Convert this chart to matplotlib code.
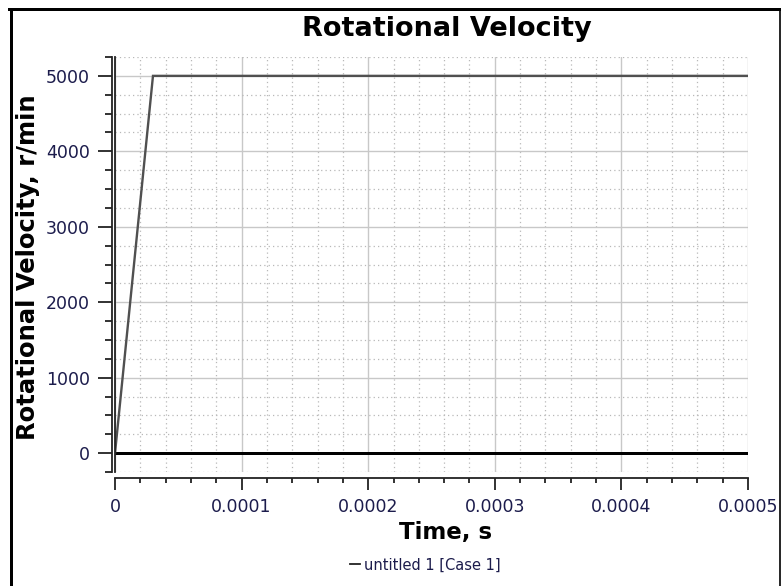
import matplotlib.pyplot as plt
from matplotlib.lines import Line2D
from matplotlib.ticker import MultipleLocator

# velocity profile: linear ramp up, then constant speed
time_s = [0.0, 0.00003, 0.0005]
velocity_rpm = [0.0, 5000.0, 5000.0]

x_ticks = [0, 0.0001, 0.0002, 0.0003, 0.0004, 0.0005]
x_tick_labels = ["0", "0.0001", "0.0002", "0.0003", "0.0004", "0.0005"]
y_ticks = [0, 1000, 2000, 3000, 4000, 5000]

title = "Rotational Velocity"
x_label = "Time, s"
y_label = "Rotational Velocity, r/min"
legend_text = "untitled 1 [Case 1]"

W, H = 781, 586
px = 72 / 100  # points per pixel at dpi 100

fig = plt.figure(figsize=(W / 100, H / 100), dpi=100)
ax = fig.add_axes([115 / W, 1 - 472 / H, 633 / W, 415 / H])

label_color = "#1c1c4c"

# grid
ax.set_axisbelow(True)
ax.xaxis.set_minor_locator(MultipleLocator(0.00002))
ax.yaxis.set_minor_locator(MultipleLocator(250))
ax.grid(which="major", color="#c8c8c8", lw=1.0)
ax.grid(which="minor", color="#b8b8b8", lw=0.9, linestyle=(0, (1, 2.5)))

# zero line and data
ax.axhline(0, color="black", lw=3 * px, zorder=3)
ax.plot(time_s, velocity_rpm, color="#505050", lw=1.7, zorder=4,
        solid_joinstyle="miter")

ax.set_xlim(0, 0.0005)
ax.set_ylim(-250, 5250)
ax.set_xticks(x_ticks)
ax.set_xticklabels(x_tick_labels)
ax.set_yticks(y_ticks)

# axes: detached bottom axis, double left axis line
for s in ["top", "right"]:
    ax.spines[s].set_visible(False)
ax.spines["bottom"].set_position(("outward", 6 * px))
ax.spines["left"].set_position(("outward", 3 * px))
ax.spines["bottom"].set_color("#222222")
ax.spines["left"].set_color("#222222")
ax.spines["bottom"].set_linewidth(1.3)
ax.spines["left"].set_linewidth(1.3)
ax.plot([0, 0], [0, 1], transform=ax.transAxes, color="#222222", lw=1.3,
        clip_on=False, zorder=5)

ax.tick_params(axis="x", which="major", length=12 * px, width=1.3,
               color="#222222", pad=6, labelsize=12.5, labelcolor=label_color)
ax.tick_params(axis="x", which="minor", length=5 * px, width=1.3,
               color="#222222")
ax.tick_params(axis="y", which="major", length=14 * px, width=1.3,
               color="#222222", pad=6, labelsize=12.5, labelcolor=label_color)
ax.tick_params(axis="y", which="minor", length=7 * px, width=1.3,
               color="#222222")

# titles
fig.text(447 / W, 1 - 29 / H, title, ha="center", va="center",
         fontsize=19.5, fontweight="bold")
fig.text(446 / W, 1 - 532 / H, x_label, ha="center", va="center",
         fontsize=16.5, fontweight="bold")
fig.text(28 / W, 1 - 267 / H, y_label, ha="center", va="center",
         rotation=90, fontsize=17.5, fontweight="bold")

# legend entry
fig.add_artist(Line2D([350 / W, 360 / W], [1 - 564 / H, 1 - 564 / H],
                      color="#222222", lw=1.3))
fig.text(364 / W, 1 - 565 / H, legend_text, ha="left", va="center",
         fontsize=10.5, color=label_color)

# frame around the figure
fig.add_artist(Line2D([10.5 / W, 10.5 / W], [0, 1 - 8.5 / H],
                      color="black", lw=3 * px))
fig.add_artist(Line2D([9 / W, 781 / W], [1 - 8.5 / H, 1 - 8.5 / H],
                      color="black", lw=3 * px))
fig.add_artist(Line2D([779.5 / W, 779.5 / W], [0, 1 - 8.5 / H],
                      color="black", lw=1.2))

fig.savefig("out.png", dpi=100)
